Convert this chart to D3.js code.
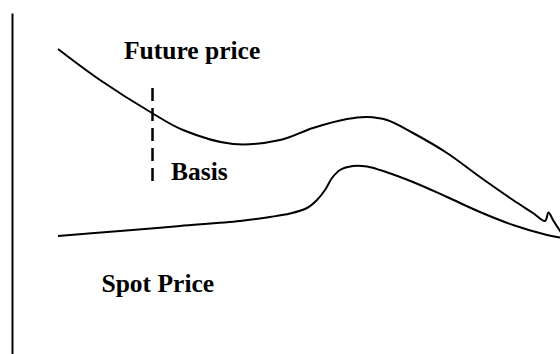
<!DOCTYPE html>
<html>
<head>
<meta charset="utf-8">
<script src="https://cdn.jsdelivr.net/npm/d3@7"></script>
<style>
  html, body { margin: 0; padding: 0; background: #fff; }
  svg { display: block; }
  .lbl { font-family: "Liberation Serif", "Times New Roman", serif; font-weight: bold; font-size: 25.5px; fill: #000; }
</style>
</head>
<body>
<svg id="chart" width="560" height="354"></svg>
<script>
// time runs 0..100 (left to right), price in arbitrary units
const futureTime  = [0, 8.4, 18.8, 25, 35, 44.4, 51, 57.8, 61.8, 65.8, 71, 77.8, 84.4, 91, 95, 97.4, 98.1, 99, 100.8];
const futurePrice = [100.5, 85, 68.5, 60, 53, 55, 61, 65.5, 66.5, 65, 58.5, 48.5, 36.5, 25, 18.5, 14.5, 18.75, 15, 8];

const spotTime  = [0, 12.4, 24.4, 36.4, 42.4, 46.4, 49.8, 51.8, 53.4, 54.8, 56.4, 59, 61.8, 64.4, 71, 77.8, 84.4, 91, 97.8, 100.4];
const spotPrice = [7, 9.5, 12, 14.5, 16.5, 18.25, 21, 25, 30, 36, 40, 42, 41.75, 40, 34, 26.5, 19, 12.5, 7.5, 6.25];

// basis marker: time and the price span it covers
const basisTime = 18.9;
const basisSpan = [81, 34];

const labels = ['Future price', 'Basis', 'Spot Price'];
const labelTime = [13.2, 22.6, 8.7];
const labelPrice = [95.5, 35, -20.75];

const svg = d3.select('#chart');

const x = d3.scaleLinear().domain([0, 100]).range([58, 558]);
const y = d3.scaleLinear().domain([0, 100]).range([250, 50]);

// left axis, only the bare line
const axisScale = d3.scaleLinear().domain([0, 1]).range([354, 13]);
svg.append('g')
  .attr('transform', 'translate(12,0)')
  .call(d3.axisLeft(axisScale).tickValues([]).tickSizeOuter(0))
  .call(g => g.select('.domain').attr('stroke', '#000').attr('stroke-width', 2));

const line = d3.line()
  .x(d => x(d[0]))
  .y(d => y(d[1]))
  .curve(d3.curveCatmullRom.alpha(0.5));

const future = d3.zip(futureTime, futurePrice);
const spot = d3.zip(spotTime, spotPrice);

svg.append('path')
  .datum(future)
  .attr('d', line)
  .attr('fill', 'none')
  .attr('stroke', '#000')
  .attr('stroke-width', 2);

svg.append('path')
  .datum(spot)
  .attr('d', line)
  .attr('fill', 'none')
  .attr('stroke', '#000')
  .attr('stroke-width', 2);

svg.append('line')
  .attr('x1', x(basisTime)).attr('x2', x(basisTime))
  .attr('y1', y(basisSpan[0])).attr('y2', y(basisSpan[1]))
  .attr('stroke', '#000')
  .attr('stroke-width', 2.5)
  .attr('stroke-dasharray', '13,7');

svg.selectAll('text.lbl')
  .data(labels)
  .join('text')
  .attr('class', 'lbl')
  .attr('x', (d, i) => x(labelTime[i]))
  .attr('y', (d, i) => y(labelPrice[i]))
  .text(d => d);
</script>
</body>
</html>
